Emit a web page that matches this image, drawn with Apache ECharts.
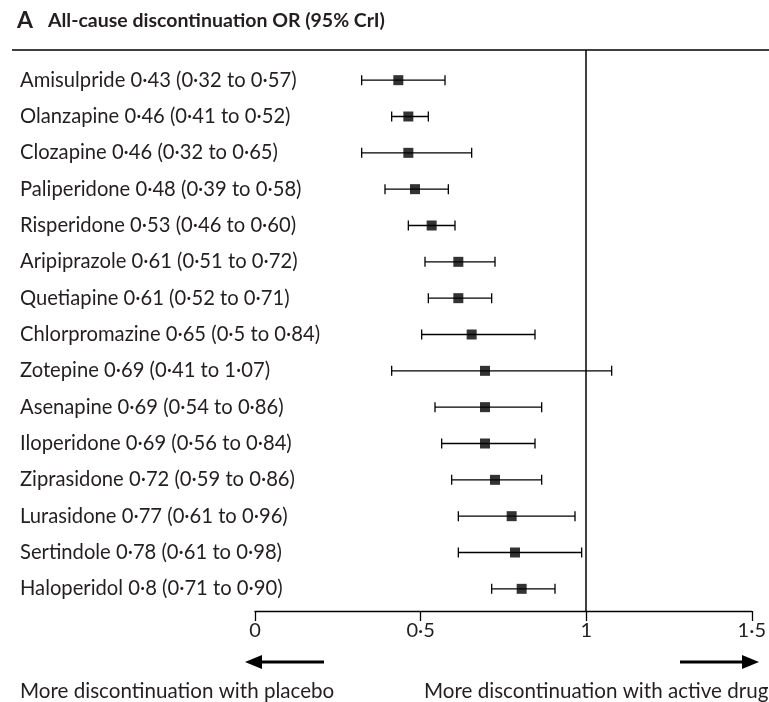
<!DOCTYPE html>
<html>
<head>
<meta charset="utf-8">
<script src="https://cdn.jsdelivr.net/npm/echarts@6/dist/echarts.min.js"></script>
<style>
  html, body { margin: 0; padding: 0; background: #fff; }
  #main { width: 769px; height: 702px; }
</style>
</head>
<body>
<div id="main"></div>
<script>
// forest plot rows, top to bottom
var labels = [
    'Amisulpride 0·43 (0·32 to 0·57)',
    'Olanzapine 0·46 (0·41 to 0·52)',
    'Clozapine 0·46 (0·32 to 0·65)',
    'Paliperidone 0·48 (0·39 to 0·58)',
    'Risperidone 0·53 (0·46 to 0·60)',
    'Aripiprazole 0·61 (0·51 to 0·72)',
    'Quetiapine 0·61 (0·52 to 0·71)',
    'Chlorpromazine 0·65 (0·5 to 0·84)',
    'Zotepine 0·69 (0·41 to 1·07)',
    'Asenapine 0·69 (0·54 to 0·86)',
    'Iloperidone 0·69 (0·56 to 0·84)',
    'Ziprasidone 0·72 (0·59 to 0·86)',
    'Lurasidone 0·77 (0·61 to 0·96)',
    'Sertindole 0·78 (0·61 to 0·98)',
    'Haloperidol 0·8 (0·71 to 0·90)'
];
var orValues = [0.43, 0.46, 0.46, 0.48, 0.53, 0.61, 0.61, 0.65, 0.69, 0.69, 0.69, 0.72, 0.77, 0.78, 0.80];
var lowValues = [0.32, 0.41, 0.32, 0.39, 0.46, 0.51, 0.52, 0.50, 0.41, 0.54, 0.56, 0.59, 0.61, 0.61, 0.71];
var highValues = [0.57, 0.52, 0.65, 0.58, 0.60, 0.72, 0.71, 0.84, 1.07, 0.86, 0.84, 0.86, 0.96, 0.98, 0.90];
var noEffect = 1;

var textColor = '#231f20';
var fontName = 'Lato';

var chart = echarts.init(document.getElementById('main'));

var pointData = [];
var ciData = [];
for (var i = 0; i < labels.length; i++) {
    pointData.push([orValues[i], i]);
    ciData.push([lowValues[i], highValues[i], i]);
}

// whisker with end caps
function renderCI(params, api) {
    var p1 = api.coord([api.value(0), api.value(2)]);
    var p2 = api.coord([api.value(1), api.value(2)]);
    var cap = 5;
    var st = { stroke: '#000', lineWidth: 1.3 };
    return {
        type: 'group',
        children: [
            { type: 'line', shape: { x1: p1[0], y1: p1[1], x2: p2[0], y2: p2[1] }, style: st },
            { type: 'line', shape: { x1: p1[0], y1: p1[1] - cap, x2: p1[0], y2: p1[1] + cap }, style: st },
            { type: 'line', shape: { x1: p2[0], y1: p2[1] - cap, x2: p2[0], y2: p2[1] + cap }, style: st }
        ]
    };
}

var option = {
    animation: false,
    title: {
        left: 12,
        top: 4,
        text: '{a|A}   {b|All-cause discontinuation OR (95% CrI)}',
        textStyle: {
            rich: {
                a: { fontFamily: fontName, fontSize: 23, color: textColor },
                b: { fontFamily: fontName, fontSize: 19.5, fontWeight: 'bold', color: textColor }
            }
        }
    },
    grid: [
        { left: 255, right: 14, top: 62, bottom: 95 },
        { left: 255, right: 14, top: 50, bottom: 91 }
    ],
    xAxis: [
        { gridIndex: 0, type: 'value', min: 0, max: 1.5, show: false },
        {
            gridIndex: 1, type: 'value', min: 0, max: 1.5, interval: 0.5,
            splitLine: { show: false },
            axisLine: { lineStyle: { color: '#000', width: 1.3 } },
            axisTick: { length: 10, lineStyle: { color: '#000', width: 1.3 } },
            axisLabel: {
                color: textColor, fontFamily: fontName, fontSize: 20, margin: 10,
                formatter: function(v) { return String(v).replace('.', '·'); }
            }
        }
    ],
    yAxis: [
        {
            gridIndex: 0, type: 'category', data: labels, inverse: true,
            axisLine: { show: false },
            axisTick: { show: false },
            axisLabel: { align: 'left', margin: 235, color: textColor, fontFamily: fontName, fontSize: 20.2 }
        },
        { gridIndex: 1, type: 'value', min: 0, max: 1, show: false }
    ],
    series: [
        {
            type: 'custom',
            xAxisIndex: 0, yAxisIndex: 0,
            renderItem: renderCI,
            encode: { x: [0, 1], y: 2 },
            data: ciData,
            silent: true
        },
        {
            type: 'scatter',
            xAxisIndex: 0, yAxisIndex: 0,
            symbol: 'rect',
            symbolSize: 10,
            itemStyle: { color: '#000' },
            data: pointData,
            silent: true
        },
        {
            type: 'line',
            xAxisIndex: 1, yAxisIndex: 1,
            data: [],
            markLine: {
                silent: true,
                symbol: 'none',
                label: { show: false },
                lineStyle: { color: '#000', width: 1.5, type: 'solid' },
                data: [{ xAxis: noEffect }]
            }
        }
    ],
    graphic: [
        { type: 'line', shape: { x1: 12, y1: 50, x2: 769, y2: 50 }, style: { stroke: '#000', lineWidth: 1.3 } },
        // arrows
        { type: 'line', shape: { x1: 324, y1: 662, x2: 258, y2: 662 }, style: { stroke: '#000', lineWidth: 3 } },
        { type: 'polygon', shape: { points: [[245, 662], [262, 655], [262, 669]] }, style: { fill: '#000' } },
        { type: 'line', shape: { x1: 680, y1: 662, x2: 746, y2: 662 }, style: { stroke: '#000', lineWidth: 3 } },
        { type: 'polygon', shape: { points: [[759, 662], [742, 655], [742, 669]] }, style: { fill: '#000' } },
        {
            type: 'text', left: 20, top: 681,
            style: { text: 'More discontinuation with placebo', fill: textColor, font: '20.6px Lato' }
        },
        {
            type: 'text', left: 424, top: 681,
            style: { text: 'More discontinuation with active drug', fill: textColor, font: '20.6px Lato' }
        }
    ]
};

chart.setOption(option);
</script>
</body>
</html>
